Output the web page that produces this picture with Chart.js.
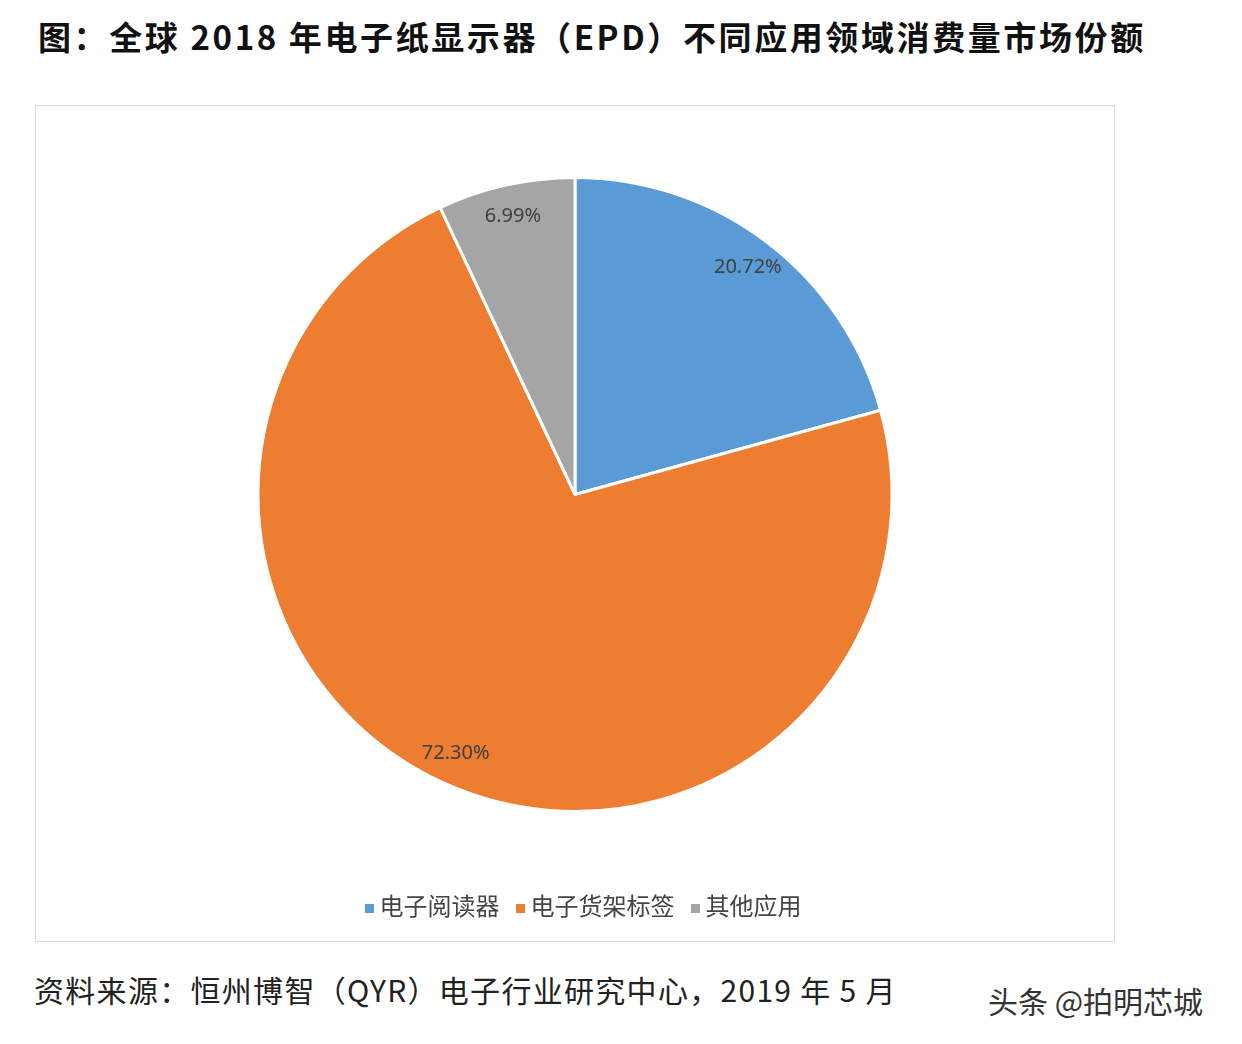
<!DOCTYPE html>
<html><head><meta charset="utf-8">
<script src="https://cdn.jsdelivr.net/npm/chart.js@4"></script>
<style>
body{margin:0;width:1242px;height:1044px;background:#fff;position:relative;overflow:hidden;font-family:"Noto Sans CJK SC",sans-serif}
#title{position:absolute;left:38px;top:12px;font-size:33px;font-weight:bold;color:#111;white-space:nowrap;letter-spacing:2.6px}
#box{position:absolute;left:35px;top:105px;width:1078px;height:835px;border:1px solid #d9d9d9}
#c{position:absolute;left:0;top:0}
#legend{position:absolute;left:0;width:100%;top:781px;text-align:center;font-size:24px;color:#444;white-space:nowrap}
#legend span.sw{display:inline-block;width:9px;height:9px;margin:0 6px 0 16px;vertical-align:middle}
#src{position:absolute;left:34px;top:967px;font-size:30px;color:#222;white-space:nowrap;letter-spacing:1.3px}
#wm{position:absolute;left:988px;top:978px;font-size:30px;color:#333;white-space:nowrap}
</style></head><body>
<div id="title">图：全球 2018 年电子纸显示器（EPD）不同应用领域消费量市场份额</div>
<div id="box"><canvas id="c" width="1078" height="835"></canvas><div id="legend"></div></div>
<div id="src">资料来源：恒州博智（QYR）电子行业研究中心，2019 年 5 月</div>
<div id="wm">头条 @拍明芯城</div>
<script>
const categories=["电子阅读器","电子货架标签","其他应用"];
const values=[20.72,72.30,6.99];
const colors=["#5B9BD5","#ED7D31","#A5A5A5"];
const lg=document.getElementById('legend');
categories.forEach((c,i)=>{lg.innerHTML+=`<span class="sw" style="background:${colors[i]}"></span>${c}`;});
const labelPlugin={id:'lbl',afterDatasetsDraw(chart){
 const ctx=chart.ctx;const meta=chart.getDatasetMeta(0);
 ctx.save();ctx.font='20px "Noto Sans", sans-serif';ctx.fillStyle='#404040';ctx.textAlign='center';ctx.textBaseline='middle';
 meta.data.forEach((a,i)=>{const m=(a.startAngle+a.endAngle)/2;const r=a.outerRadius*0.9;
  ctx.fillText(values[i].toFixed(2)+'%',a.x+Math.cos(m)*r,a.y+Math.sin(m)*r);});
 ctx.restore();}};
new Chart(document.getElementById('c'),{type:'pie',
 data:{labels:categories,datasets:[{data:values,backgroundColor:colors,borderColor:'#fff',borderWidth:3}]},
 options:{responsive:false,animation:false,layout:{padding:{top:70,bottom:128,left:0,right:0}},
  plugins:{legend:{display:false},tooltip:{enabled:false}}},
 plugins:[labelPlugin]});
</script></body></html>
